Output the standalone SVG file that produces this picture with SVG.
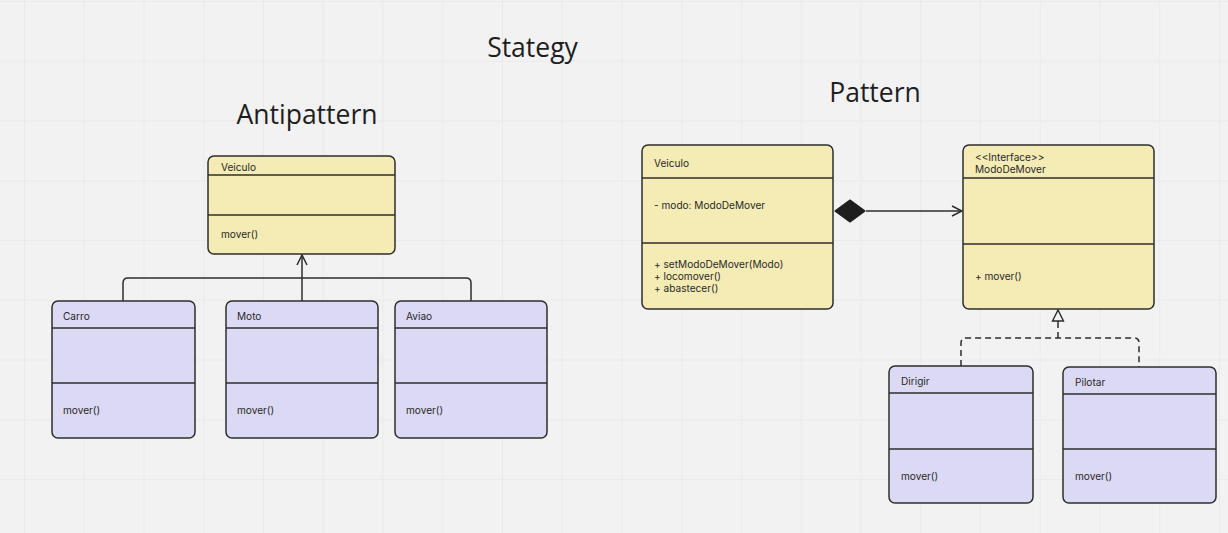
<svg xmlns="http://www.w3.org/2000/svg" width="1228" height="533" viewBox="0 0 1228 533">
  <defs>
    <pattern id="grid" x="24" y="1" width="59.75" height="59.75" patternUnits="userSpaceOnUse">
      <path d="M0 0 V59.75 M0 0 H59.75" fill="none" stroke="#e4e4e4" stroke-width="1.2"/>
    </pattern>
    <marker id="open-arrow" viewBox="0 0 12 12" refX="11" refY="6" markerWidth="12" markerHeight="12" markerUnits="userSpaceOnUse" orient="auto">
      <path d="M1 1 L11 6 L1 11" fill="none" stroke="#2b2b2b" stroke-width="1.5"/>
    </marker>
    <marker id="hollow-tri" viewBox="0 0 14 14" refX="13" refY="7" markerWidth="14" markerHeight="14" markerUnits="userSpaceOnUse" orient="auto">
      <path d="M2 1.5 L13 7 L2 12.5 Z" fill="#f2f2f2" stroke="#2b2b2b" stroke-width="1.4"/>
    </marker>
  </defs>
  <style>
    .title { font-family: "Open Sans", "Noto Sans", sans-serif; font-size: 26.5px; fill: #1e1e1e; text-anchor: middle; }
    .box-y { fill: #f5ebb4; stroke: #2e2e2e; stroke-width: 1.5; }
    .box-p { fill: #dcd9f4; stroke: #2e2e2e; stroke-width: 1.5; }
    .sep { stroke: #2e2e2e; stroke-width: 1.5; }
    .lbl { font-family: Inter, "Liberation Sans", sans-serif; font-size: 10.1px; fill: #2a2a2a; }
    .edge { fill: none; stroke: #2e2e2e; stroke-width: 1.5; }
    .dash { stroke-dasharray: 6 4; }
  </style>

  <!-- canvas -->
  <rect width="1228" height="533" fill="#f2f2f2"/>
  <rect width="1228" height="533" fill="url(#grid)"/>

  <!-- headings -->
  <text class="title" x="532.5" y="57">Stategy</text>
  <text class="title" x="307" y="124">Antipattern</text>
  <text class="title" x="875" y="102">Pattern</text>

  <!-- connectors -->
  <g id="connectors">
    <!-- inheritance (antipattern) -->
    <path class="edge" d="M123 301 V283 Q123 278 128 278 H466 Q471 278 471 283 V301"/>
    <path class="edge" d="M302 301 V255" marker-end="url(#open-arrow)"/>
    <!-- composition Veiculo -> ModoDeMover -->
    <path d="M835 211 L850 200 L865 211 L850 222 Z" fill="#1e1e1e" stroke="#1e1e1e" stroke-width="1.2" stroke-linejoin="round"/>
    <path class="edge" d="M866 211 H962" marker-end="url(#open-arrow)"/>
    <!-- realization -->
    <path class="edge dash" d="M961 366 V343 Q961 338 966 338 H1134 Q1139 338 1139 343 V367"/>
    <path class="edge dash" d="M1058 338 V326"/>
    <path class="edge" d="M1058 326 V310" marker-end="url(#hollow-tri)"/>
  </g>

  <!-- antipattern -->
  <g id="veiculo-anti">
    <rect class="box-y" x="208" y="156" width="187" height="98" rx="6"/>
    <line class="sep" x1="208" y1="175" x2="395" y2="175"/>
    <line class="sep" x1="208" y1="215" x2="395" y2="215"/>
    <text class="lbl" x="221" y="171">Veiculo</text>
    <text class="lbl" x="221" y="238">mover()</text>
  </g>
  <g id="carro">
    <rect class="box-p" x="52" y="301" width="143" height="137" rx="6"/>
    <line class="sep" x1="52" y1="328" x2="195" y2="328"/>
    <line class="sep" x1="52" y1="383" x2="195" y2="383"/>
    <text class="lbl" x="63" y="320">Carro</text>
    <text class="lbl" x="63" y="414">mover()</text>
  </g>
  <g id="moto">
    <rect class="box-p" x="226" y="301" width="152" height="137" rx="6"/>
    <line class="sep" x1="226" y1="328" x2="378" y2="328"/>
    <line class="sep" x1="226" y1="383" x2="378" y2="383"/>
    <text class="lbl" x="237" y="320">Moto</text>
    <text class="lbl" x="237" y="414">mover()</text>
  </g>
  <g id="aviao">
    <rect class="box-p" x="395" y="301" width="152" height="137" rx="6"/>
    <line class="sep" x1="395" y1="328" x2="547" y2="328"/>
    <line class="sep" x1="395" y1="383" x2="547" y2="383"/>
    <text class="lbl" x="406" y="320">Aviao</text>
    <text class="lbl" x="406" y="414">mover()</text>
  </g>

  <!-- pattern -->
  <g id="veiculo">
    <rect class="box-y" x="642" y="145" width="191" height="164" rx="6"/>
    <line class="sep" x1="642" y1="178" x2="833" y2="178"/>
    <line class="sep" x1="642" y1="243" x2="833" y2="243"/>
    <text class="lbl" x="654" y="167">Veiculo</text>
    <text class="lbl" x="654" y="209">- modo: ModoDeMover</text>
    <text class="lbl" x="654" y="268">+ setModoDeMover(Modo)</text>
    <text class="lbl" x="654" y="280">+ locomover()</text>
    <text class="lbl" x="654" y="292">+ abastecer()</text>
  </g>
  <g id="modo-de-mover">
    <rect class="box-y" x="963" y="145" width="191" height="164" rx="6"/>
    <line class="sep" x1="963" y1="178" x2="1154" y2="178"/>
    <line class="sep" x1="963" y1="244" x2="1154" y2="244"/>
    <text class="lbl" x="975" y="161">&lt;&lt;Interface&gt;&gt;</text>
    <text class="lbl" x="975" y="173">ModoDeMover</text>
    <text class="lbl" x="975" y="280">+ mover()</text>
  </g>
  <g id="dirigir">
    <rect class="box-p" x="889" y="366" width="144" height="137" rx="6"/>
    <line class="sep" x1="889" y1="393" x2="1033" y2="393"/>
    <line class="sep" x1="889" y1="449" x2="1033" y2="449"/>
    <text class="lbl" x="901" y="385">Dirigir</text>
    <text class="lbl" x="901" y="480">mover()</text>
  </g>
  <g id="pilotar">
    <rect class="box-p" x="1063" y="367" width="153" height="136" rx="6"/>
    <line class="sep" x1="1063" y1="394" x2="1216" y2="394"/>
    <line class="sep" x1="1063" y1="449" x2="1216" y2="449"/>
    <text class="lbl" x="1075" y="386">Pilotar</text>
    <text class="lbl" x="1075" y="480">mover()</text>
  </g>
</svg>
